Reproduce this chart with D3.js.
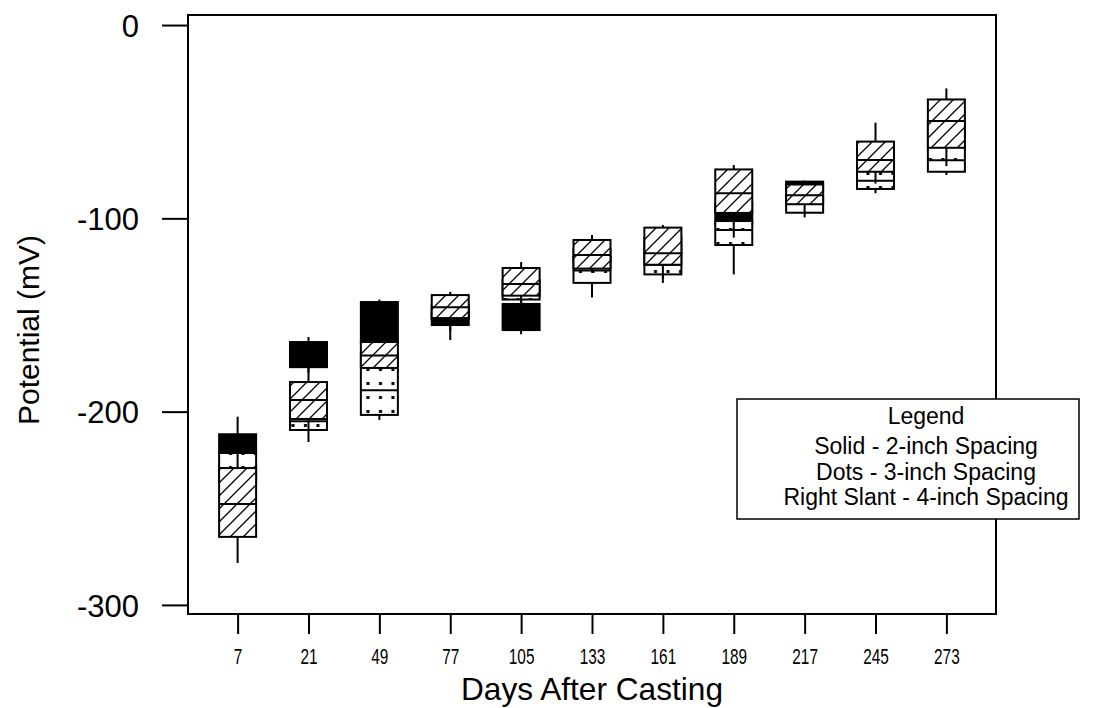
<!DOCTYPE html>
<html>
<head>
<meta charset="utf-8">
<script src="https://cdn.jsdelivr.net/npm/d3@7"></script>
<style>
  body { margin: 0; background: #fff; }
  text { font-family: Arial, "Liberation Sans", sans-serif; fill: #000; }
</style>
</head>
<body>
<div id="chart"></div>
<script>
var days = ["7", "21", "49", "77", "105", "133", "161", "189", "217", "245", "273"];
var yTicks = [0, -100, -200, -300];

// [min, q1, median, q3, max] per day
var solid2 = [
  [-229, -221.4, -216, -211.7, -202.6],
  [-180, -177, -170, -164, -161.4],
  [-166, -164, -150, -143.3, -142],
  [-163, -155.2, -152, -148, -146],
  [-160, -157.8, -150, -144.3, -138],
  [-124, -122, -118, -116, -114],
  [-120, -118, -114, -110, -108],
  [-105, -103, -99, -92, -90],
  [-90, -86, -84, -81, -80.5],
  [-74, -72, -70, -66, -64],
  [-60, -58, -55, -50, -48]
];
var dots3 = [
  [-240, -236, -232, -221.4, -215],
  [-215.7, -209.5, -205, -190, -187],
  [-204.3, -201.7, -189, -170, -168],
  [-158, -152, -149, -145, -143],
  [-146, -142, -137, -132, -130],
  [-141, -133.4, -127, -120, -116],
  [-133.4, -129, -124, -118, -115],
  [-129, -113.8, -106, -101.4, -99],
  [-99.5, -97.1, -92, -88, -86],
  [-87, -84.8, -80.5, -72, -70],
  [-77.6, -75.9, -70, -60, -55]
];
var slant4 = [
  [-278.3, -264.8, -247.8, -229.2, -221.4],
  [-209.5, -203.8, -194, -184.7, -177],
  [-178, -177.4, -171, -164, -160],
  [-152, -151.6, -146, -139.7, -138],
  [-144, -140, -134, -125.7, -122.6],
  [-128, -126, -119, -111.2, -108.6],
  [-131, -124, -118, -104.8, -103.4],
  [-110, -97.2, -87, -74.7, -72.4],
  [-97.1, -92.7, -88, -82.5, -81],
  [-82, -75.9, -69.8, -60.3, -50.5],
  [-73, -63.5, -49.7, -38.5, -32.8]
];
var legendLines = ["Legend", "Solid - 2-inch Spacing", "Dots - 3-inch Spacing", "Right Slant - 4-inch Spacing"];

var W = 1104, H = 708;
var pLeft = 188, pRight = 996, pTop = 15, pBottom = 614;

var svg = d3.select("#chart").append("svg").attr("width", W).attr("height", H);

var defs = svg.append("defs");
var pSlant = defs.append("pattern").attr("id", "slant").attr("patternUnits", "userSpaceOnUse")
  .attr("width", 13).attr("height", 13);
pSlant.append("rect").attr("width", 13).attr("height", 13).attr("fill", "#fff");
pSlant.append("path").attr("d", "M0,13L13,0M-3,3L3,-3M10,16L16,10")
  .attr("stroke", "#000").attr("stroke-width", 1.3);

var pDots = defs.append("pattern").attr("id", "dots").attr("patternUnits", "userSpaceOnUse")
  .attr("width", 12.5).attr("height", 14);
pDots.append("rect").attr("width", 12.5).attr("height", 14).attr("fill", "#fff");
pDots.append("rect").attr("x", 4).attr("y", 4).attr("width", 3).attr("height", 3).attr("fill", "#000");

var x = d3.scalePoint().domain(days).range([pLeft, pRight]).padding(0.7);
var y = d3.scaleLinear().domain([-304.7, 5.2]).range([pBottom, pTop]);
var bw = 37;

// axes
svg.append("g").attr("transform", "translate(" + pLeft + ",0)")
  .call(d3.axisLeft(y).tickValues(yTicks).tickSize(26).tickPadding(23).tickFormat(function (d) { return String(d); }))
  .call(function (g) {
    g.select(".domain").remove();
    g.selectAll("line").attr("stroke-width", 2);
    g.selectAll("text").style("font-size", "31px").attr("dy", "0.36em");
  });

svg.append("g").attr("transform", "translate(0," + pBottom + ")")
  .call(d3.axisBottom(x).tickSize(20).tickPadding(14))
  .call(function (g) {
    g.select(".domain").remove();
    g.selectAll("line").attr("stroke-width", 2);
    g.selectAll("text").style("font-size", "22px").attr("transform", "scale(0.7,1)");
  });

svg.append("rect").attr("x", pLeft).attr("y", pTop).attr("width", pRight - pLeft).attr("height", pBottom - pTop)
  .attr("fill", "none").attr("stroke", "#000").attr("stroke-width", 2);

function drawSeries(data, fill) {
  var g = svg.append("g");
  data.forEach(function (d, i) {
    var cx = x(days[i]);
    g.append("rect").attr("x", cx - bw / 2).attr("y", y(d[3])).attr("width", bw)
      .attr("height", y(d[1]) - y(d[3])).attr("fill", fill).attr("stroke", "#000").attr("stroke-width", 2);
    g.append("line").attr("x1", cx - bw / 2).attr("x2", cx + bw / 2).attr("y1", y(d[2])).attr("y2", y(d[2]))
      .attr("stroke", "#000").attr("stroke-width", 2);
    g.append("line").attr("x1", cx).attr("x2", cx).attr("y1", y(d[0])).attr("y2", y(d[1]))
      .attr("stroke", "#000").attr("stroke-width", 2);
    g.append("line").attr("x1", cx).attr("x2", cx).attr("y1", y(d[3])).attr("y2", y(d[4]))
      .attr("stroke", "#000").attr("stroke-width", 2);
  });
}
drawSeries(solid2, "#000");
drawSeries(dots3, "url(#dots)");
drawSeries(slant4, "url(#slant)");

// axis titles
svg.append("text").attr("x", 592).attr("y", 700).attr("text-anchor", "middle")
  .style("font-size", "32px").attr("textLength", 262).attr("lengthAdjust", "spacingAndGlyphs")
  .text("Days After Casting");
svg.append("text").attr("transform", "translate(39,330) rotate(-90)").attr("text-anchor", "middle")
  .style("font-size", "30px").text("Potential (mV)");

// legend
var legendY = [424, 454, 480, 505];
var lg = svg.append("g");
lg.append("rect").attr("x", 737).attr("y", 399).attr("width", 342).attr("height", 120)
  .attr("fill", "#fff").attr("stroke", "#000").attr("stroke-width", 1.5);
lg.selectAll("text").data(legendLines).enter().append("text")
  .attr("x", 926).attr("y", function (d, i) { return legendY[i]; })
  .attr("text-anchor", "middle").style("font-size", "23px").text(function (d) { return d; });
</script>
</body>
</html>
